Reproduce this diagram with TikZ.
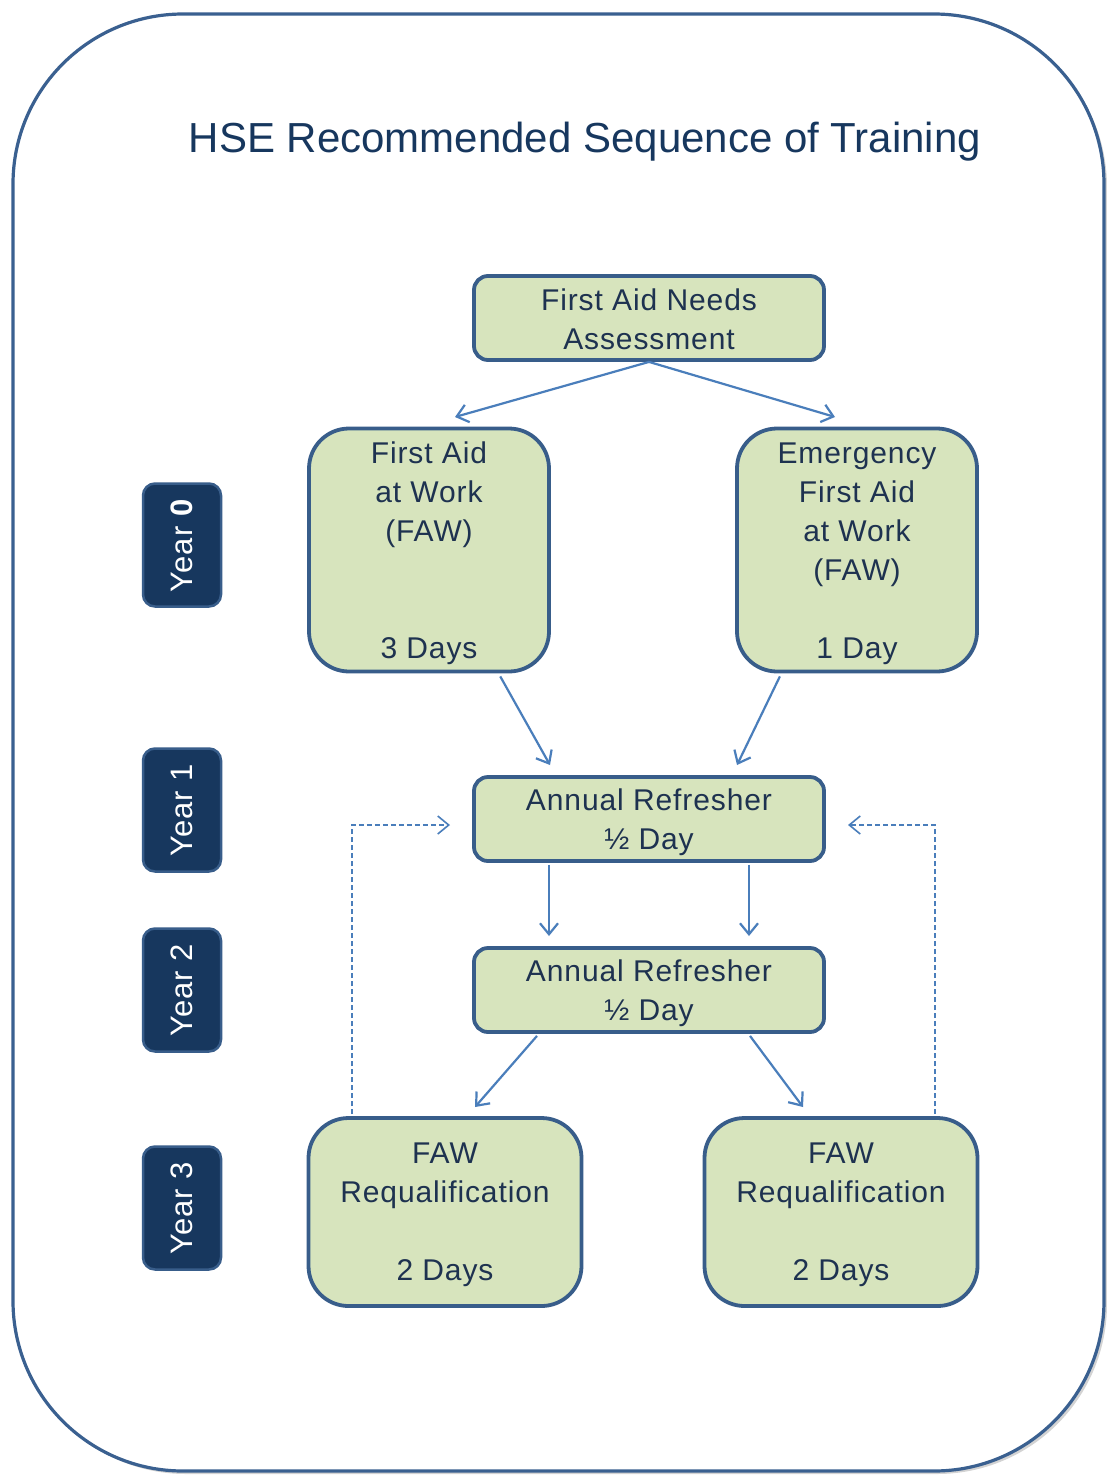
\documentclass[tikz,border=0pt]{standalone}
\usepackage{fontspec}
\setmainfont{Liberation Sans}
\newfontfamily\boxfont[LetterSpace=3]{Liberation Sans}
\usetikzlibrary{arrows.meta,shadows,calc}
\definecolor{framec}{HTML}{3A6090}
\definecolor{boxfill}{HTML}{D7E4BD}
\definecolor{boxline}{HTML}{385D8A}
\definecolor{yearfill}{HTML}{17375E}
\definecolor{arrowc}{HTML}{4A7EBB}
\definecolor{txtc}{HTML}{1E3250}
\definecolor{titlec}{HTML}{17375E}
\tikzset{
  stepbox/.style={draw=boxline, fill=boxfill, line width=3.8pt, rounded corners=14pt,
    minimum width=350pt, minimum height=84pt, inner sep=0pt},
  bigbox/.style={stepbox, rounded corners=40pt},
  boxtxt/.style={inner sep=0pt, align=center, text=txtc,
    font=\boxfont\fontsize{30}{39}\selectfont},
  yearbox/.style={draw=boxline, fill=yearfill, line width=2.5pt, rounded corners=12pt,
    minimum width=78pt, minimum height=123pt, inner sep=0pt},
  yeartxt/.style={rotate=90, text=white, font=\boxfont\fontsize{31}{36}\selectfont, inner sep=0pt},
  arr/.style={draw=arrowc, line width=2.2pt, -{Straight Barb[length=11pt,width=18pt,line width=2.2pt]}},
  darr/.style={draw=arrowc, line width=1.6pt, dash pattern=on 5pt off 3pt,
    -{Straight Barb[length=11pt,width=18pt,line width=1.6pt]}}
}
\begin{document}
\begin{tikzpicture}[x=1pt,y=-1pt]
\useasboundingbox (0,0) rectangle (1107,1475);
\path[draw=framec, line width=3.2pt, fill=white, rounded corners=170pt,
  drop shadow={opacity=0.35, shadow xshift=3pt, shadow yshift=-3pt}]
  (13,14) rectangle (1104,1471);

\node[text=titlec, font=\fontsize{42}{48}\selectfont, inner sep=0pt] (title) at (585,142)
  {HSE Recommended Sequence of Training};

% main boxes
\node[stepbox] (needs) at (649,318) {};
\node[bigbox, minimum width=240pt, minimum height=243pt] (faw) at (429,550) {};
\node[bigbox, minimum width=240pt, minimum height=243pt] (efaw) at (857,550) {};
\node[stepbox] (ann1) at (649,819) {};
\node[stepbox] (ann2) at (649,990) {};
\node[bigbox, minimum width=273pt, minimum height=188pt] (reqL) at (445,1212) {};
\node[bigbox, minimum width=273pt, minimum height=188pt] (reqR) at (841,1212) {};

% box texts
\node[boxtxt] (needsT) at ([yshift=-1pt]needs.center) {First Aid Needs\\Assessment};
\node[boxtxt] (fawT) at ([yshift=-3pt]faw.center)
  {First Aid\\at Work\\(FAW)\\\mbox{}\\\mbox{}\\3 Days};
\node[boxtxt] (efawT) at ([yshift=-4pt]efaw.center)
  {Emergency\\First Aid\\at Work\\(FAW)\\\mbox{}\\1 Day};
\node[boxtxt] (ann1T) at ([yshift=-3pt]ann1.center) {Annual Refresher\\½ Day};
\node[boxtxt] (ann2T) at ([yshift=-3pt]ann2.center) {Annual Refresher\\½ Day};
\node[boxtxt] (reqLT) at ([yshift=-3pt]reqL.center) {FAW\\Requalification\\\mbox{}\\2 Days};
\node[boxtxt] (reqRT) at ([yshift=-3pt]reqR.center) {FAW\\Requalification\\\mbox{}\\2 Days};

% year labels
\node[yearbox] (y0) at (182,545) {};
\node[yeartxt] (y0t) at (y0.center) {Year \textbf{0}};
\node[yearbox] (y1) at (182,810) {};
\node[yeartxt] (y1t) at (y1.center) {Year 1};
\node[yearbox] (y2) at (182,990) {};
\node[yeartxt] (y2t) at (y2.center) {Year 2};
\node[yearbox] (y3) at (182,1208) {};
\node[yeartxt] (y3t) at (y3.center) {Year 3};

% arrow end points
\coordinate (e1) at (455,417);
\coordinate (e2) at (835,417);
\coordinate (e3) at (550,765);
\coordinate (e4) at (737,765);
\coordinate (e5) at (549,936);
\coordinate (e6) at (749,936);
\coordinate (e7) at (475,1107);
\coordinate (e8) at (803,1107);
\coordinate (d1) at (450,825);
\coordinate (d2) at (848,825);

\draw[arr] (needs.south) -- (e1);
\draw[arr] (needs.south) -- (e2);
\draw[arr] ([yshift=-3pt]faw.-60) -- (e3);
\draw[arr] ([yshift=-3pt]efaw.-122) -- (e4);
\draw[arr] ([xshift=-100pt,yshift=-2pt]ann1.south) -- (e5);
\draw[arr] ([xshift=100pt,yshift=-2pt]ann1.south) -- (e6);
\draw[arr] ([xshift=-112pt,yshift=-2pt]ann2.south) -- (e7);
\draw[arr] ([xshift=101pt,yshift=-2pt]ann2.south) -- (e8);
\draw[darr] ([xshift=-93pt,yshift=2pt]reqL.north) |- (d1);
\draw[darr] ([xshift=94pt,yshift=2pt]reqR.north) |- (d2);
\end{tikzpicture}
\end{document}
